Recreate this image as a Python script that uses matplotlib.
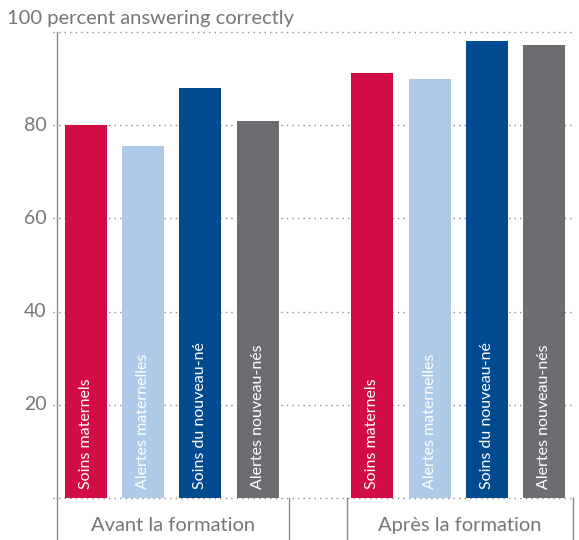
import matplotlib
matplotlib.use("Agg")
import matplotlib.pyplot as plt
import matplotlib.transforms as mtransforms

# values
groups = ["Avant la formation", "Après la formation"]
series = ["Soins maternels", "Alertes maternelles",
          "Soins du nouveau-né", "Alertes nouveau-nés"]
avant = [80, 75.5, 88, 81]
apres = [91.2, 90, 98.1, 97.2]
yticks = [20, 40, 60, 80, 100]

COLOURS = ["#D20C44", "#AFCAE8", "#004A8F", "#6C6D71"]
TEXT_GREY = "#75767a"

plt.rcParams["font.family"] = ["Lato", "DejaVu Sans"]

fig = plt.figure(figsize=(5.79, 5.40), dpi=100)
ax = fig.add_axes([57 / 579, 42 / 540, (573 - 57) / 579, (498 - 32) / 540])

# bars: group 1 at 0..3, group 2 at 5..8
for g, vals in enumerate([avant, apres]):
    for i, v in enumerate(vals):
        x = g * 5 + i
        ax.bar(x, v, width=0.73, color=COLOURS[i], zorder=3)
        ax.text(x, 2, series[i], rotation=90, ha="center", va="bottom",
                color="white", fontsize=11.5, zorder=4)

ax.set_xlim(-0.5, 8.5)
ax.set_ylim(0, 100)

for y in [0] + yticks:
    ax.plot([-0.57, 8.5], [y, y], color="#8a8a8a", linestyle=(0, (1, 3)),
            linewidth=1.0, clip_on=False, zorder=1)

for s in ax.spines.values():
    s.set_visible(False)
ax.plot([-0.5, -0.5], [0, 100], color="#8a8a8a", linewidth=1.0,
        clip_on=False, zorder=2)

ax.set_xticks([])
ax.set_yticks([])
for y in yticks[:-1]:
    ax.text(-0.68, y, str(y), ha="right", va="center", fontsize=14,
            color=TEXT_GREY)
ax.text(-0.097, 1.03, "100 percent answering correctly",
        transform=ax.transAxes, ha="left", va="center", fontsize=14.5,
        color=TEXT_GREY)

# category separators below the axis
trans = mtransforms.blended_transform_factory(ax.transData, ax.transAxes)
for x in [-0.5, 3.55, 4.55, 8.5]:
    ax.plot([x, x], [0, -0.095], color="#8a8a8a", linewidth=1.0,
            transform=trans, clip_on=False)
ax.text(1.52, -0.058, groups[0], transform=trans, ha="center", va="center",
        fontsize=14.5, color=TEXT_GREY)
ax.text(6.52, -0.058, groups[1], transform=trans, ha="center", va="center",
        fontsize=14.5, color=TEXT_GREY)

fig.savefig("out.png", dpi=100)
